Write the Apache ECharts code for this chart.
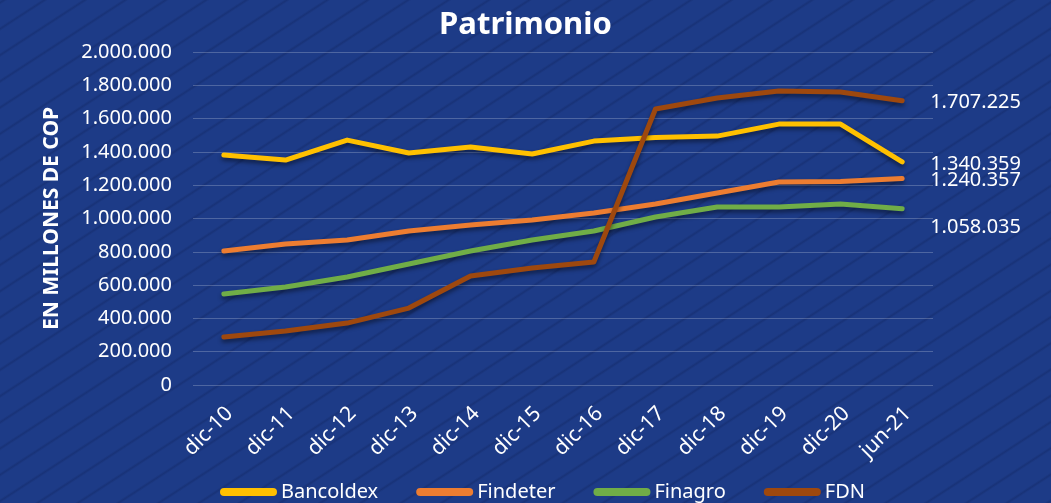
<!DOCTYPE html>
<html>
<head>
<meta charset="utf-8">
<script src="https://cdn.jsdelivr.net/npm/echarts@6/dist/echarts.min.js"></script>
<style>
html,body{margin:0;padding:0;width:1051px;height:503px;overflow:hidden;}
body{
  background-color:#1d3b87;
  background-image:repeating-linear-gradient(-33deg, transparent 0px, rgba(12,28,80,0.28) 2px, transparent 4px, transparent 22px);
}
#c{width:1051px;height:503px;}
</style>
</head>
<body>
<div id="c"></div>
<script>
const categories = ['dic-10','dic-11','dic-12','dic-13','dic-14','dic-15','dic-16','dic-17','dic-18','dic-19','dic-20','jun-21'];
const bancoldex = [1381000,1351000,1471000,1393000,1429000,1387000,1465000,1486000,1495000,1567000,1567000,1340359];
const findeter  = [805000,847000,871000,925000,961000,991000,1033000,1087000,1153000,1219000,1222000,1240357];
const finagro   = [547000,589000,649000,727000,805000,871000,925000,1009000,1069000,1069000,1087000,1058035];
const fdn       = [288000,324000,372000,462000,655000,703000,739000,1658000,1724000,1766000,1760000,1707225];
const yTicks = [0,200000,400000,600000,800000,1000000,1200000,1400000,1600000,1800000,2000000];

const fmt = v => String(Math.round(v)).replace(/\B(?=(\d{3})+(?!\d))/g, '.');
const FONT = 'Noto Sans';

function mk(name, data, color, labelOffsetY) {
  return {
    name, type: 'line', data, smooth: false, symbol: 'none',
    lineStyle: {width: 5, color, cap: 'round', join: 'round',
      shadowColor: 'rgba(0,0,0,0.45)', shadowBlur: 4, shadowOffsetY: 3},
    itemStyle: {color},
    label: {show: false},
    endLabel: {
      show: true, color: '#fff', fontFamily: FONT, fontSize: 20,
      distance: 28, offset: [0, labelOffsetY],
      formatter: p => fmt(p.value)
    },
    emphasis: {disabled: true}
  };
}

const chart = echarts.init(document.getElementById('c'), null, {renderer: 'canvas'});
chart.setOption({
  backgroundColor: 'transparent',
  animation: false,
  title: {
    text: 'Patrimonio', left: 'center', top: 5,
    textStyle: {color: '#fff', fontFamily: FONT, fontWeight: 'bold', fontSize: 31}
  },
  grid: {left: 193, right: 118, top: 52, bottom: 118, containLabel: false},
  legend: {
    bottom: 1, left: 220, padding: 0, itemWidth: 57, itemHeight: 8, itemGap: 38,
    icon: 'path://M4,0 L53,0 A4,4 0 0 1 53,8 L4,8 A4,4 0 0 1 4,0 Z',
    textStyle: {color: '#fff', fontFamily: FONT, fontSize: 20, padding: [0,0,0,-1]},
    data: ['Bancoldex','Findeter','Finagro','FDN']
  },
  xAxis: {
    type: 'category', data: categories, boundaryGap: true,
    axisLine: {show: false}, axisTick: {show: false},
    axisLabel: {color: '#fff', fontFamily: FONT, fontSize: 21, rotate: 45, margin: 31,
      padding: [0, -8, 0, 0], interval: 0}
  },
  yAxis: {
    type: 'value', min: 0, max: 2000000, interval: 200000,
    name: 'EN MILLONES DE COP', nameLocation: 'middle', nameGap: 130, nameRotate: 90,
    nameTextStyle: {color: '#fff', fontFamily: FONT, fontWeight: 'bold', fontSize: 21},
    axisLine: {show: false}, axisTick: {show: false},
    splitLine: {lineStyle: {color: 'rgba(255,255,255,0.22)', width: 1}},
    axisLabel: {color: '#fff', fontFamily: FONT, fontSize: 20, margin: 21,
      formatter: v => yTicks.includes(v) ? fmt(v) : ''}
  },
  series: [
    mk('Bancoldex', bancoldex, '#FFC000', 2),
    mk('Findeter', findeter, '#ED7D31', 2),
    mk('Finagro', finagro, '#70AD47', 18),
    mk('FDN', fdn, '#9E480E', 2)
  ]
});
</script>
</body>
</html>
